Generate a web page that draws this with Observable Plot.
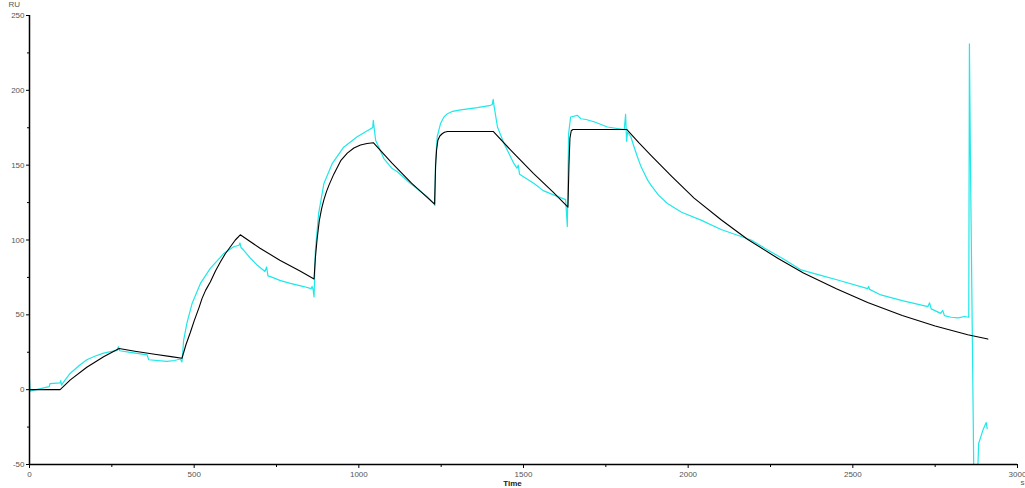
<!DOCTYPE html>
<html>
<head>
<meta charset="utf-8">
<script src="https://cdn.jsdelivr.net/npm/d3@7"></script>
<script src="https://cdn.jsdelivr.net/npm/@observablehq/plot@0.6"></script>
<style>
  html, body { margin: 0; padding: 0; background: #fff; }
  #chart { width: 1025px; height: 488px; overflow: hidden; }
</style>
</head>
<body>
<div id="chart"></div>
<script>
// Measured sensorgram (cyan)
const dataT = [0, 2, 20, 60, 62, 93, 95, 97, 110, 124, 150, 174, 200, 225, 250, 266, 270, 274,
  306, 357, 362, 417, 440, 458, 463,
  468, 478, 494, 519, 549, 590, 620, 636, 639, 642,
  650, 670, 691, 715, 720, 724, 732, 760, 792, 833, 855, 858, 861, 864,
  868, 878, 894, 919, 954, 995, 1036, 1042, 1044, 1047,
  1051, 1076, 1100, 1117, 1157, 1208, 1228, 1231,
  1233, 1238, 1248, 1258, 1269, 1285, 1309, 1360, 1400, 1405, 1408, 1411,
  1421, 1441, 1471, 1480, 1484, 1488, 1532, 1560, 1593, 1628, 1633,
  1637, 1643, 1664, 1674, 1690, 1714, 1755, 1806, 1810, 1813, 1816,
  1826, 1836, 1846, 1856, 1867, 1877, 1887, 1910, 1937, 1980, 2039, 2100, 2191, 2240, 2292, 2343, 2400, 2454, 2545, 2548, 2551,
  2585, 2650, 2728, 2733, 2738, 2767, 2773, 2778, 2798, 2820, 2839, 2852,
  2854, 2857, 2868, 2877, 2882, 2895, 2905, 2908];
const dataRU = [7, -1, 0, 2, 4, 4.5, 6, 3, 7, 11, 16, 20, 22.5, 24.4, 25.6, 26.2, 28.7, 26,
  24.9, 23.3, 20, 18.9, 19.5, 20.5, 18.5,
  33, 44.4, 57.8, 71, 81, 91, 95.5, 96.5, 98, 95,
  93.3, 88, 83.3, 79, 82, 76, 75.5, 73, 71, 68.9, 67.5, 69, 67.1, 62,
  93, 117.8, 137.8, 151, 162, 169, 174.4, 175, 180, 174,
  166.7, 154.4, 148, 145.6, 137.8, 128.9, 124.4, 123,
  153, 169, 177.8, 182, 184.4, 186, 187, 188.5, 190, 190.5, 194, 189,
  175.5, 164.4, 151, 148, 150, 144, 137.8, 133, 130, 127, 109,
  171, 182.2, 183.3, 181, 180.5, 179, 175.5, 173.8, 184, 166, 172,
  169, 162, 155.5, 149.5, 144.4, 140, 136.7, 130, 124.4, 118.5, 113.3, 107, 100, 93.5, 87, 80, 76.5, 73.3, 67.5, 69, 67,
  63.3, 59.5, 55.5, 58, 54, 51, 53, 49.5, 48.4, 48, 48.9, 48.4,
  231, 155, -70, -70, -36, -27, -22, -26];

// Fitted curve (black)
const fitT = [0, 93, 124, 174, 225, 272, 320, 380, 430, 463,
  475, 488, 500, 515, 524, 535, 549, 565, 580, 595, 610, 625, 640, 700, 760, 820, 864,
  866, 868, 873, 880, 887, 894, 902, 910, 924, 945, 965, 985, 1005, 1025, 1044, 1100, 1160, 1230,
  1233, 1236, 1240, 1246, 1253, 1260, 1269, 1408, 1470, 1530, 1590, 1635,
  1638, 1641, 1645, 1650, 1814, 1850, 1887, 1950, 2018, 2100, 2180, 2272, 2350, 2450, 2545, 2650, 2750, 2849, 2910];
const fitRU = [0, 0, 6.5, 15, 22, 27.5, 25.7, 23.7, 22.1, 21,
  30, 38, 46, 55, 61, 66.5, 72, 79.5, 85.5, 91, 95.5, 100, 103.5, 94.5, 86.5, 79.5, 74,
  81, 88, 100, 113, 121, 127, 132.5, 137, 144, 153, 158, 161.5, 163.5, 164.5, 165, 151.5, 138, 124,
  149, 160, 166.7, 169.5, 171, 172, 172.5, 172.5, 158, 144.5, 132, 122,
  150, 168, 173, 173.8, 173.8, 165, 156.5, 142.5, 128, 113.5, 100.5, 87.8, 78, 67.5, 58.2, 49.5, 42.5, 36.7, 33.8];

const xMajor = [0, 500, 1000, 1500, 2000, 2500, 3000];
const xMinor = [250, 750, 1250, 1750, 2250, 2750];
const yMajor = [-50, 0, 50, 100, 150, 200, 250];
const yMinor = [-25, 25, 75, 125, 175, 225];

const measured = dataT.map((t, i) => ({t, ru: dataRU[i]}));
const fitted = fitT.map((t, i) => ({t, ru: fitRU[i]}));
const plain = d => String(d);

const chart = Plot.plot({
  width: 1025,
  height: 488,
  marginLeft: 29,
  marginRight: 8,
  marginTop: 15,
  marginBottom: 24,
  style: {fontFamily: "Liberation Sans, Arial, sans-serif", fontSize: "8px", background: "#fff", color: "#333"},
  x: {domain: [0, 3000]},
  y: {domain: [-50, 250]},
  marks: [
    Plot.axisY({ticks: yMajor, tickSize: 3, tickPadding: 2, tickFormat: plain, label: null, stroke: "#000", fill: "#555"}),
    Plot.axisY({ticks: yMinor, tickSize: 2, tickFormat: () => "", label: null, stroke: "#000"}),
    Plot.axisX({ticks: xMajor, tickSize: 4, tickPadding: 3, tickFormat: plain, label: null, stroke: "#000", fill: "#555"}),
    Plot.axisX({ticks: xMinor, tickSize: 3, tickFormat: () => "", label: null, stroke: "#000"}),
    Plot.line(measured, {x: "t", y: "ru", stroke: "#1ee8e8", strokeWidth: 1.2, clip: true}),
    Plot.line(fitted, {x: "t", y: "ru", stroke: "#000", strokeWidth: 1.1, clip: true}),
    Plot.ruleX([0], {stroke: "#000", strokeWidth: 1.5}),
    Plot.ruleY([-50], {stroke: "#000", strokeWidth: 1.5}),
    Plot.text(["RU"], {frameAnchor: "top-left", dx: -21, dy: -11, textAnchor: "start", lineAnchor: "middle", fill: "#555"}),
    Plot.text(["Time"], {frameAnchor: "bottom", dx: -11, dy: 19, lineAnchor: "middle", fontWeight: "bold", fill: "#222"}),
    Plot.text(["s"], {frameAnchor: "bottom-right", dx: 3, dy: 18, textAnchor: "start", lineAnchor: "middle", fill: "#555"})
  ]
});
document.getElementById("chart").appendChild(chart);
</script>
</body>
</html>
